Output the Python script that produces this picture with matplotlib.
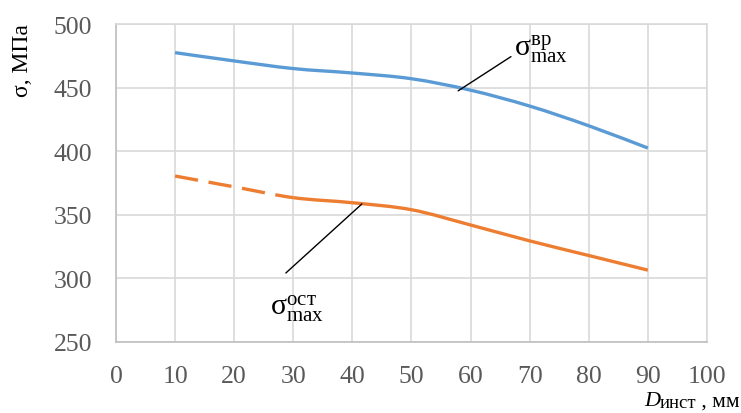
import numpy as np
import matplotlib.pyplot as plt
from matplotlib.path import Path
from matplotlib.patches import PathPatch

plt.rcParams['font.family'] = ['Liberation Serif', 'DejaVu Serif']
plt.rcParams['mathtext.fontset'] = 'custom'
plt.rcParams['mathtext.rm'] = 'Liberation Serif'
plt.rcParams['mathtext.it'] = 'Liberation Serif:italic'

# данные
d_inst = [10, 20, 30, 40, 50, 60, 70, 80, 90]
sigma_vr = [477.5, 471, 465, 461.5, 457, 448, 435.5, 420, 402.5]
sigma_ost = [380.5, 372, 363.5, 359.5, 354, 342, 329.5, 318, 306.5]
dash_until = 2  # пунктир до 30 мм

x_ticks = [0, 10, 20, 30, 40, 50, 60, 70, 80, 90, 100]
y_ticks = [250, 300, 350, 400, 450, 500]

blue = '#5B9BD5'
orange = '#ED7D31'
grid_c = '#D9D9D9'
txt_c = '#595959'


def bezier_segments(x, y, i0, i1):
    # сглаженная линия как в Excel (Catmull-Rom -> Безье)
    p = np.column_stack([x, y]).astype(float)
    n = len(p)
    verts = [p[i0]]
    codes = [Path.MOVETO]
    for i in range(i0, i1):
        pm = p[max(i - 1, 0)]
        pp = p[min(i + 2, n - 1)]
        c1 = p[i] + (p[i + 1] - pm) / 6
        c2 = p[i + 1] - (pp - p[i]) / 6
        verts += [c1, c2, p[i + 1]]
        codes += [Path.CURVE4] * 3
    return Path(verts, codes)


fig = plt.figure(figsize=(7.41, 4.14), dpi=100)
ax = fig.add_axes([0.1565, 0.1715, 0.7976, 0.768])

n = len(d_inst)
ax.add_patch(PathPatch(bezier_segments(d_inst, sigma_vr, 0, n - 1),
                       fill=False, ec=blue, lw=2.4, capstyle='butt', zorder=3))
ax.add_patch(PathPatch(bezier_segments(d_inst, sigma_ost, 0, dash_until),
                       fill=False, ec=orange, lw=2.4, ls=(0, (7, 3.2)),
                       capstyle='butt', zorder=3))
ax.add_patch(PathPatch(bezier_segments(d_inst, sigma_ost, dash_until, n - 1),
                       fill=False, ec=orange, lw=2.4, capstyle='butt', zorder=3))

ax.set_xlim(0, 100)
ax.set_ylim(250, 500)
ax.set_xticks(x_ticks)
ax.set_yticks(y_ticks)
ax.grid(True, color=grid_c, lw=1.2)
ax.set_axisbelow(True)
for s in ax.spines.values():
    s.set_color(grid_c)
    s.set_linewidth(1.2)
ax.spines['bottom'].set_color('#BFBFBF')
ax.spines['left'].set_color('#BFBFBF')
ax.tick_params(length=0, labelsize=18.5, labelcolor=txt_c)
ax.tick_params(axis='x', pad=16.5)
ax.tick_params(axis='y', pad=17)

# подпись оси Y (сверху, как в Excel)
fig.text(23 / 741, 1 - 24 / 414, 'σ, МПа', fontsize=17, rotation=90,
         ha='center', va='top')

# подпись оси X: D_инст , мм
renderer = fig.canvas.get_renderer()
base_y = 1 - 406.5 / 414
t_mm = fig.text(740 / 741, base_y, ' , мм', fontsize=15.5,
                ha='right', va='baseline')
x_left = t_mm.get_window_extent(renderer).x0 / fig.bbox.width
t_sub = fig.text(x_left, base_y - 1.5 / 414, 'инст', fontsize=13.5,
                 ha='right', va='baseline')
x_left = t_sub.get_window_extent(renderer).x0 / fig.bbox.width
fig.text(x_left + 0.5 / 741, base_y, 'D', fontsize=16, style='italic',
         ha='right', va='baseline')

# подписи кривых
ax.annotate(r'$\mathrm{σ}_{\mathrm{max}}^{\mathrm{вр}}$', xy=(57.9, 447.5),
            xytext=(67.3, 475.5), fontsize=21.5, ha='left', va='baseline',
            arrowprops=dict(arrowstyle='-', color='black', lw=1,
                            shrinkA=0, shrinkB=0, relpos=(0, 0.3)))
ax.annotate(r'$\mathrm{σ}_{\mathrm{max}}^{\mathrm{ост}}$', xy=(41.6, 358.5),
            xytext=(26.0, 272.5), fontsize=21.5, ha='left', va='baseline',
            arrowprops=dict(arrowstyle='-', color='black', lw=1,
                            shrinkA=0, shrinkB=0, relpos=(0.3, 1.6)))

fig.savefig('out.png', dpi=100)
